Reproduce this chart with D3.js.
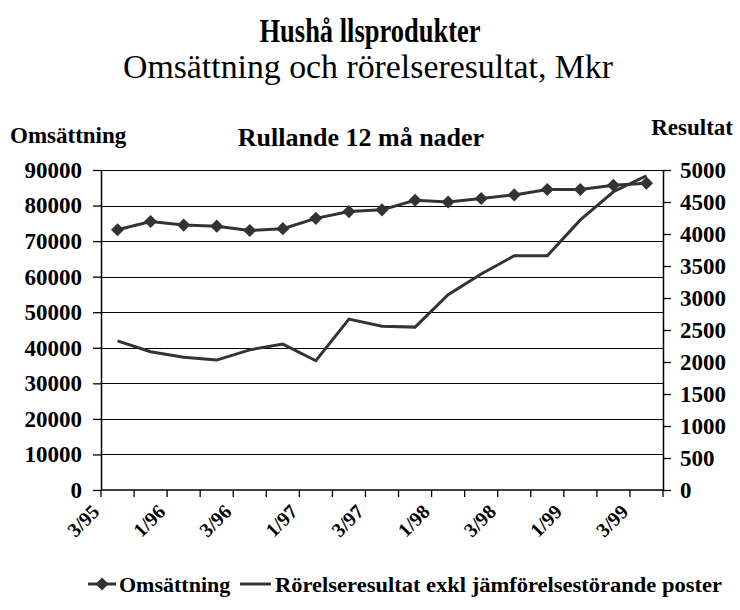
<!DOCTYPE html>
<html>
<head>
<meta charset="utf-8">
<script src="https://cdn.jsdelivr.net/npm/d3@7"></script>
</head>
<body style="margin:0;background:#fff">
<div id="chart"></div>
<script>
// quarters, rolling 12 months
const quarters = ["3/95", "4/95", "1/96", "2/96", "3/96", "4/96", "1/97", "2/97", "3/97",
                  "4/97", "1/98", "2/98", "3/98", "4/98", "1/99", "2/99", "3/99"];
const omsattning = [73200, 75500, 74500, 74200, 73000, 73500, 76400, 78300, 78800,
                    81500, 81000, 82000, 83000, 84500, 84500, 85700, 86300];
const resultat = [2330, 2160, 2075, 2030, 2190, 2280, 2020, 2670, 2560,
                  2545, 3050, 3375, 3660, 3660, 4220, 4660, 4910];
const leftTicks = [0, 10000, 20000, 30000, 40000, 50000, 60000, 70000, 80000, 90000];
const rightTicks = [0, 500, 1000, 1500, 2000, 2500, 3000, 3500, 4000, 4500, 5000];
const shownLabels = ["3/95", "1/96", "3/96", "1/97", "3/97", "1/98", "3/98", "1/99", "3/99"];

let width = 740, height = 610;
let plot = {left: 101, right: 663, top: 170, bottom: 490};
let lineColor = "#333";
const FONT = "'Liberation Serif'";

let svg = d3.select("#chart").append("svg")
    .attr("width", width).attr("height", height)
    .style("font-family", FONT);

function label(sel, size, bold) {
    return sel.style("font-family", FONT).style("font-size", size + "px")
        .style("font-weight", bold ? "bold" : "normal").attr("fill", "#000");
}

let x = d3.scaleBand().domain(quarters).range([plot.left, plot.right]);
let yL = d3.scaleLinear().domain([0, 90000]).range([plot.bottom, plot.top]);
let yR = d3.scaleLinear().domain([0, 5000]).range([plot.bottom, plot.top]);
let cx = d => x(d) + x.bandwidth() / 2;

// titles (squeezed a bit, like the original)
label(svg.append("text"), 33, true).attr("x", 370).attr("y", 42)
    .attr("text-anchor", "middle")
    .attr("textLength", 221).attr("lengthAdjust", "spacingAndGlyphs")
    .text("Hushå llsprodukter");
label(svg.append("text"), 33, false).attr("x", 368).attr("y", 78)
    .attr("text-anchor", "middle")
    .attr("textLength", 490).attr("lengthAdjust", "spacingAndGlyphs")
    .text("Omsättning och rörelseresultat, Mkr");

label(svg.append("text"), 23, true).attr("x", 10).attr("y", 143).text("Omsättning");
label(svg.append("text"), 26, true).attr("x", 361).attr("y", 146).attr("text-anchor", "middle")
    .text("Rullande 12 må nader");
label(svg.append("text"), 23, true).attr("x", 733).attr("y", 135).attr("text-anchor", "end")
    .text("Resultat");

// gridlines from the left axis
svg.append("g").selectAll("line")
    .data(leftTicks.filter(d => d > 0))
    .join("line")
    .attr("x1", plot.left).attr("x2", plot.right)
    .attr("y1", d => Math.round(yL(d)) + 0.5).attr("y2", d => Math.round(yL(d)) + 0.5)
    .attr("stroke", "#000").attr("stroke-width", 1.2);

// left and right axes
let leftAxis = svg.append("g").attr("transform", "translate(" + plot.left + ",0)")
    .call(d3.axisLeft(yL).tickValues(leftTicks).tickFormat(d3.format("d"))
        .tickSize(8).tickPadding(11).tickSizeOuter(0));
let rightAxis = svg.append("g").attr("transform", "translate(" + plot.right + ",0)")
    .call(d3.axisRight(yR).tickValues(rightTicks).tickFormat(d3.format("d"))
        .tickSize(8).tickPadding(9).tickSizeOuter(0));
[leftAxis, rightAxis].forEach(function(a) {
    a.attr("font-family", null).attr("font-size", null);
    a.select(".domain").attr("stroke", "#000").attr("stroke-width", 1.5);
    a.selectAll(".tick line").attr("stroke", "#000").attr("stroke-width", 1.3);
    label(a.selectAll(".tick text"), 23, true);
});

// x axis line and ticks between categories
let bounds = quarters.map(d => x(d)).concat([plot.right]);
svg.append("line")
    .attr("x1", plot.left).attr("x2", plot.right)
    .attr("y1", plot.bottom).attr("y2", plot.bottom)
    .attr("stroke", "#000").attr("stroke-width", 1.5);
svg.append("g").selectAll("line")
    .data(bounds)
    .join("line")
    .attr("x1", d => d).attr("x2", d => d)
    .attr("y1", plot.bottom).attr("y2", plot.bottom + 7)
    .attr("stroke", "#000").attr("stroke-width", 1.3);

label(svg.append("g").selectAll("text")
    .data(shownLabels)
    .join("text"), 20, true)
    .attr("text-anchor", "end")
    .attr("transform", d => "translate(" + (cx(d) - 17) + ",513) rotate(-45)")
    .text(d => d);

// Rörelseresultat line (right axis)
let lineR = d3.line().x((d, i) => cx(quarters[i])).y(d => yR(d));
svg.append("path").datum(resultat)
    .attr("d", lineR)
    .attr("fill", "none").attr("stroke", lineColor).attr("stroke-width", 3);

// Omsättning line with diamonds (left axis)
let lineL = d3.line().x((d, i) => cx(quarters[i])).y(d => yL(d));
svg.append("path").datum(omsattning)
    .attr("d", lineL)
    .attr("fill", "none").attr("stroke", lineColor).attr("stroke-width", 3);
let diamond = d3.symbol().type(d3.symbolDiamond2).size(110);
svg.append("g").selectAll("path")
    .data(omsattning)
    .join("path")
    .attr("d", diamond)
    .attr("transform", (d, i) => "translate(" + cx(quarters[i]) + "," + yL(d) + ")")
    .attr("fill", lineColor);

// legend
let legend = svg.append("g").attr("transform", "translate(0,584)");
legend.append("line").attr("x1", 88).attr("x2", 116).attr("y1", 0).attr("y2", 0)
    .attr("stroke", lineColor).attr("stroke-width", 3);
legend.append("path").attr("d", diamond).attr("transform", "translate(102,0)").attr("fill", lineColor);
label(legend.append("text"), 22, true).attr("x", 119).attr("y", 8).text("Omsättning");
legend.append("line").attr("x1", 240).attr("x2", 271).attr("y1", 0).attr("y2", 0)
    .attr("stroke", lineColor).attr("stroke-width", 3);
label(legend.append("text"), 22, true).attr("x", 275).attr("y", 8)
    .attr("textLength", 447).attr("lengthAdjust", "spacingAndGlyphs")
    .text("Rörelseresultat exkl jämförelsestörande poster");
</script>
</body>
</html>
